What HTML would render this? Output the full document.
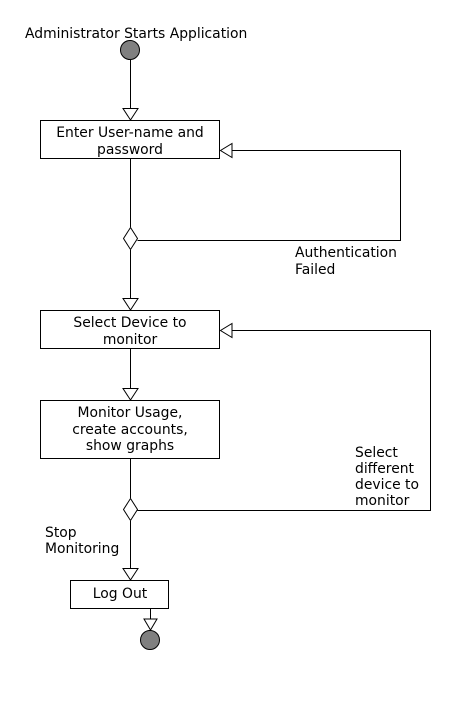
<!DOCTYPE html>
<html><head><meta charset="utf-8"><style>
html,body{margin:0;padding:0;background:#fff;width:470px;height:720px;overflow:hidden}
svg text{font-family:"DejaVu Sans","Liberation Sans",sans-serif;font-size:13.9px;fill:#000}
</style></head><body>
<svg width="470" height="720" viewBox="0 0 470 720" xmlns="http://www.w3.org/2000/svg">
<g stroke="#000" stroke-width="1" fill="none">
<circle cx="130" cy="50" r="9.5" fill="#808080"/>
<line x1="130.5" y1="60" x2="130.5" y2="108"/>
<polygon points="123,108.5 138,108.5 130.5,120" fill="#fff"/>
<rect x="40.5" y="120.5" width="179" height="38" fill="#fff"/>
<line x1="130.5" y1="159" x2="130.5" y2="227"/>
<polygon points="130.5,227.5 137.5,238.5 130.5,249.5 123.5,238.5" fill="#fff"/>
<polyline points="137.5,240.5 400.5,240.5 400.5,150.5 232,150.5"/>
<polygon points="232,143.5 232,157.5 220.5,150.5" fill="#fff"/>
<line x1="130.5" y1="250" x2="130.5" y2="298"/>
<polygon points="123,298.5 138,298.5 130.5,310" fill="#fff"/>
<rect x="40.5" y="310.5" width="179" height="38" fill="#fff"/>
<polyline points="137.5,510.5 430.5,510.5 430.5,330.5 232,330.5"/>
<polygon points="232,323.5 232,337.5 220.5,330.5" fill="#fff"/>
<line x1="130.5" y1="349" x2="130.5" y2="388"/>
<polygon points="123,388.5 138,388.5 130.5,400" fill="#fff"/>
<rect x="40.5" y="400.5" width="179" height="58" fill="#fff"/>
<line x1="130.5" y1="459" x2="130.5" y2="498"/>
<polygon points="130.5,498.5 137.5,509.5 130.5,520.5 123.5,509.5" fill="#fff"/>
<line x1="130.5" y1="521" x2="130.5" y2="568"/>
<polygon points="123,568.5 138,568.5 130.5,580" fill="#fff"/>
<rect x="70.5" y="580.5" width="98" height="28" fill="#fff"/>
<line x1="150.5" y1="609" x2="150.5" y2="619"/>
<polygon points="144,619 157,619 150.5,630" fill="#fff"/>
<circle cx="150" cy="640" r="9.5" fill="#808080"/>
</g>
<text x="25" y="38">Administrator Starts Application</text>
<text x="130" y="137" text-anchor="middle">Enter User-name and</text>
<text x="130" y="154" text-anchor="middle">password</text>
<text x="295" y="257">Authentication</text>
<text x="295" y="274">Failed</text>
<text x="130" y="327" text-anchor="middle">Select Device to</text>
<text x="130" y="344" text-anchor="middle">monitor</text>
<text x="130" y="417" text-anchor="middle">Monitor Usage,</text>
<text x="130" y="434" text-anchor="middle">create accounts,</text>
<text x="130" y="450" text-anchor="middle">show graphs</text>
<text x="355" y="457">Select</text>
<text x="355" y="473">different</text>
<text x="355" y="489">device to</text>
<text x="355" y="505">monitor</text>
<text x="45" y="537">Stop</text>
<text x="45" y="553">Monitoring</text>
<text x="120" y="598" text-anchor="middle">Log Out</text>
</svg>
</body></html>
